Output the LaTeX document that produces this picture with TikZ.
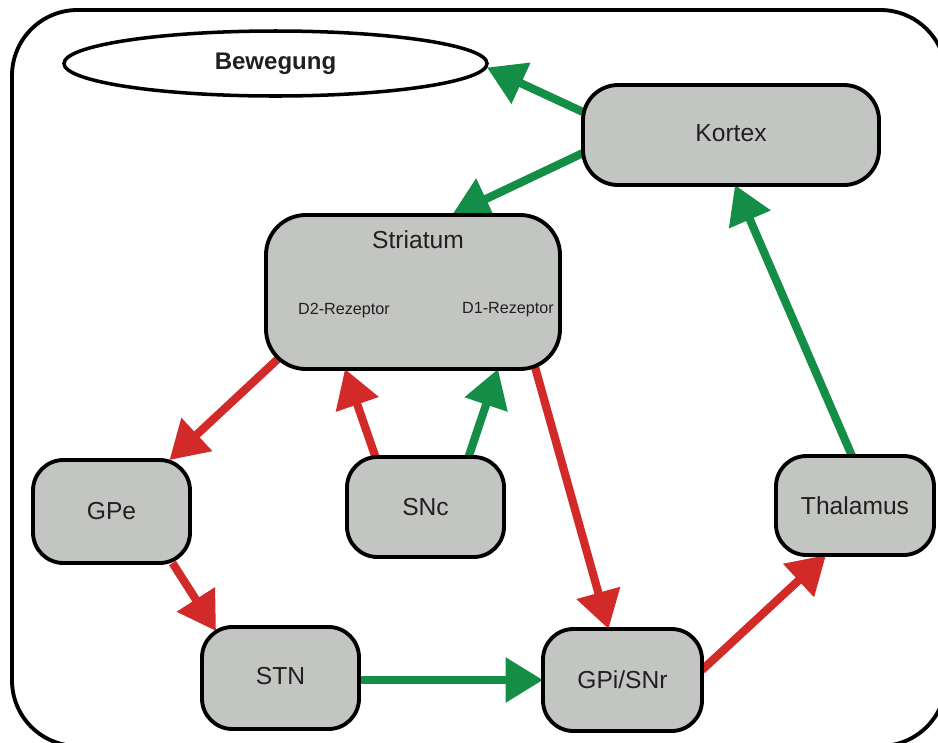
\documentclass[tikz,border=0pt]{standalone}
\usepackage{fontspec}
\setmainfont{Liberation Sans}
\usetikzlibrary{arrows.meta,calc,shapes.geometric}
\definecolor{agreen}{HTML}{148E46}
\definecolor{ared}{HTML}{D22A28}
\definecolor{boxgray}{HTML}{C3C5C2}
\definecolor{txt}{HTML}{231F20}
\pgfdeclarelayer{bg}
\pgfsetlayers{bg,main}
\tikzset{
  box/.style={draw=black, line width=3.3pt, fill=boxgray, rounded corners=26pt,
    outer sep=0pt, inner sep=0pt, text=txt, font=\fontsize{21}{24}\selectfont},
  lbl/.style={text=txt, inner sep=0pt},
  conn/.style={line width=7pt, -{Triangle[length=32pt,width=37pt]}},
  gconn/.style={conn, draw=agreen, fill=agreen},
  rconn/.style={conn, draw=ared, fill=ared},
}
\begin{document}
\begin{tikzpicture}[x=0.03cm, y=-0.03cm]
\useasboundingbox (0,0) rectangle (938,742);
\clip (0,0) rectangle (938,742);
% frame
\draw[line width=3.3pt, rounded corners=56pt] (12,10) rectangle (946,746);
% nodes
\node[ellipse, draw=black, line width=3pt, fill=white, minimum width=12.69cm, minimum height=1.95cm, inner sep=0pt, outer sep=0pt, text=txt, font=\fontsize{20.5}{24}\selectfont\bfseries] (bew) at (275.5,63.5) {Bewegung};
\node[box, minimum width=8.88cm, minimum height=3.0cm, rounded corners=30pt] (kortex) at (731,135) {\raisebox{3pt}{Kortex}};
\node[box, minimum width=8.82cm, minimum height=4.62cm, rounded corners=34pt] (str) at (413,292) {};
\node[box, minimum width=4.71cm, minimum height=3.09cm] (gpe) at (111.5,511.5) {GPe};
\node[box, minimum width=4.71cm, minimum height=3.0cm] (snc) at (425.5,507) {SNc};
\node[box, minimum width=4.74cm, minimum height=2.97cm] (thal) at (855,505.5) {Thalamus};
\node[box, minimum width=4.71cm, minimum height=3.06cm] (stn) at (280.5,678) {\raisebox{3pt}{STN}};
\node[box, minimum width=4.77cm, minimum height=3.06cm] (gpi) at (622.5,680) {GPi/SNr};
% striatum texts
\node[lbl, font=\fontsize{21}{24}\selectfont] (strt) at (418,240) {Striatum};
\node[lbl, font=\fontsize{13.8}{16}\selectfont] (d2) at (344,311) {D2-Rezeptor};
\node[lbl, font=\fontsize{13.8}{16}\selectfont] (d1) at (508,310) {D1-Rezeptor};
% connectors
\begin{pgfonlayer}{bg}
\draw[gconn] ($(kortex.west)+(0,-23)$) -- ($(bew.east)+(0,4)$);
\draw[gconn] ($(kortex.west)+(0,18)$) -- ($(str.north)+(39,0)$);
\draw[gconn] ($(thal.north)+(-3,0)$) -- ($(kortex.south)+(4,0)$);
\draw[rconn] ($(str.south west)+(14,-12)$) -- ($(gpe.north)+(58,0)$);
\draw[rconn] ($(snc.north)+(-50,0)$) -- ($(str.south)+(-68,0)$);
\draw[gconn] ($(snc.north)+(43,0)$) -- ($(str.south)+(85,0)$);
\draw[rconn] ($(str.south)+(122,-2)$) -- ($(gpi.north)+(-14,0)$);
\draw[rconn] ($(gpe.south)+(61,0)$) -- ($(stn.north west)+(14,4)$);
\draw[gconn] ($(stn.east)+(0,2)$) -- (gpi.west);
\draw[rconn] ($(gpi.east)+(0,-10)$) -- ($(thal.south west)+(50,0)$);
\end{pgfonlayer}
\end{tikzpicture}
\end{document}
